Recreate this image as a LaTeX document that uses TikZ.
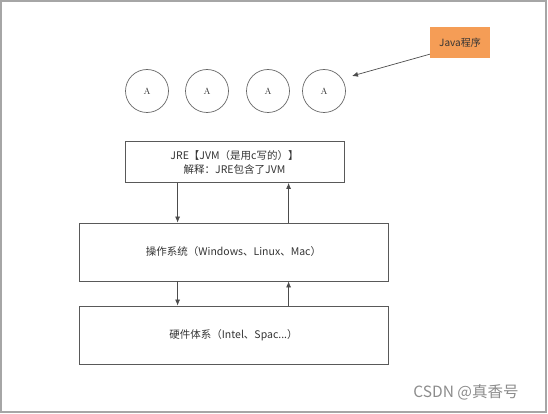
\documentclass[tikz,border=0pt]{standalone}
\usepackage{fontspec}
\newfontfamily\cjk{Noto Sans CJK SC}
\usetikzlibrary{arrows.meta}

\begin{document}
\begin{tikzpicture}[x=1pt,y=-1pt,
    layer/.style={draw=black!65,line width=0.8pt,text=black!80,font=\cjk\fontsize{10.5}{14}\selectfont,align=center,inner sep=0pt},
    obj/.style={circle,draw=black!60,line width=0.7pt,minimum size=43pt,inner sep=0pt,font=\small,text=black!80},
    flow/.style={draw=black!70,line width=0.7pt,-{Latex[length=6pt,width=5pt]}}]
    \useasboundingbox (0,0) rectangle (548,414);
    \draw[black!35,line width=2pt] (1,1) rectangle (546,412);

    \node[obj] (a1) at (147,91) {A};
    \node[obj] (a2) at (207,91) {A};
    \node[obj] (a3) at (268,91) {A};
    \node[obj] (a4) at (324,91) {A};

    \node[fill={rgb,255:red,245;green,157;blue,86},text=black!80,minimum width=60pt,minimum height=31pt,inner sep=0pt,font=\cjk\fontsize{10}{12}\selectfont] (java) at (460,42.5) {Java程序};
    \coordinate (tip) at (352,76);

    \node[layer,minimum width=219pt,minimum height=41pt] (jre) at (234.5,162) {JRE【JVM（是用c写的）】\\解释：JRE包含了JVM};
    \node[layer,minimum width=309pt,minimum height=58pt] (os) at (233.5,252) {操作系统（Windows、Linux、Mac）};
    \node[layer,minimum width=309pt,minimum height=58pt] (hw) at (233.5,335) {硬件体系（Intel、Spac...）};

    \draw[flow] ([yshift=4pt]java.south west) -- (tip);
    \draw[flow] ([xshift=53pt]jre.south west) -- ([xshift=99pt]os.north west);
    \draw[flow] ([xshift=210pt]os.north west) -- ([xshift=164pt]jre.south west);
    \draw[flow] ([xshift=99pt]os.south west) -- ([xshift=99pt]hw.north west);
    \draw[flow] ([xshift=210pt]hw.north west) -- ([xshift=210pt]os.south west);

    \node[text=black!45,font=\cjk\fontsize{15.5}{18}\selectfont] (mark) at (466,392) {CSDN @真香号};
\end{tikzpicture}
\end{document}
